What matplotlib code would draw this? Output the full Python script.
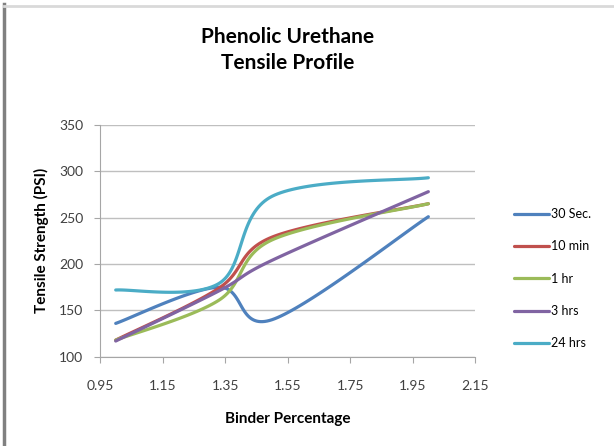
import numpy as np
import matplotlib
matplotlib.use("Agg")
import matplotlib.pyplot as plt
from matplotlib.lines import Line2D

# Data
binder = [1.0, 1.33, 1.5, 2.0]
sec30 = [136, 175, 140, 251]
min10 = [118, 174, 229, 265]
hr1 = [118, 161, 226, 265]
hrs3 = [117, 171, 204, 278]
hrs24 = [172, 179, 273, 293]

labels = ["30 Sec.", "10 min", "1 hr", "3 hrs", "24 hrs"]
colors = ["#4F81BD", "#C0504D", "#9BBB59", "#8064A2", "#4BACC6"]


def smooth(xs, ys, n=40):
    # Excel-style smoothed line: Bezier segments with 1/6 neighbour tangents
    p = np.column_stack([xs, ys]).astype(float)
    ext = np.vstack([p[0], p, p[-1]])
    out = []
    t = np.linspace(0, 1, n)[:, None]
    for i in range(len(p) - 1):
        p0, p3 = p[i], p[i + 1]
        c1 = p0 + (ext[i + 2] - ext[i]) / 6
        c2 = p3 - (ext[i + 3] - ext[i + 1]) / 6
        seg = ((1 - t) ** 3) * p0 + 3 * ((1 - t) ** 2) * t * c1 + 3 * (1 - t) * t ** 2 * c2 + t ** 3 * p3
        out.append(seg if i == 0 else seg[1:])
    out = np.vstack(out)
    return out[:, 0], out[:, 1]


plt.rcParams["font.family"] = ["Lato", "DejaVu Sans"]

fig = plt.figure(figsize=(6.14, 4.46), dpi=100)
ax = fig.add_axes([0.163, 0.2, 0.611, 0.52])

for ys, lab, c in zip([sec30, min10, hr1, hrs3, hrs24], labels, colors):
    sx, sy = smooth(binder, ys)
    ax.plot(sx, sy, color=c, lw=2.3, label=lab, solid_capstyle="round")

ax.set_xlim(0.95, 2.15)
ax.set_ylim(100, 350)
ax.set_xticks(np.arange(0.95, 2.16, 0.2))
ax.set_xticklabels(["0.95", "1.15", "1.35", "1.55", "1.75", "1.95", "2.15"])
ax.set_yticks(range(100, 351, 50))
ax.yaxis.grid(True, color="#BFBFBF", lw=1)
ax.set_axisbelow(True)
for s in ["top", "right"]:
    ax.spines[s].set_visible(False)
for s in ["left", "bottom"]:
    ax.spines[s].set_color("#A6A6A6")
ax.tick_params(colors="#A6A6A6", labelcolor="#404040", labelsize=10, length=4)
ax.tick_params(axis="y", pad=8)
ax.tick_params(axis="x", pad=13)

ax.set_xlabel("Binder Percentage", fontsize=11, fontweight="bold", labelpad=14)
ax.set_ylabel("Tensile Strength (PSI)", fontsize=11, fontweight="bold", labelpad=7)
ax.set_title("Phenolic Urethane\nTensile Profile", fontsize=15, fontweight="bold",
             pad=40, linespacing=1.4)

fig.legend(loc="center left", bbox_to_anchor=(0.818, 0.375), frameon=False,
           fontsize=9, handlelength=2.8, handletextpad=0.2, labelspacing=1.62)

# chart frame edges
fig.add_artist(Line2D([0.007, 0.007], [0, 0.99], transform=fig.transFigure, color="#808080", lw=2.5))
fig.add_artist(Line2D([0.007, 1], [0.987, 0.987], transform=fig.transFigure, color="#D9D9D9", lw=2))

fig.savefig("out.png", dpi=100)
